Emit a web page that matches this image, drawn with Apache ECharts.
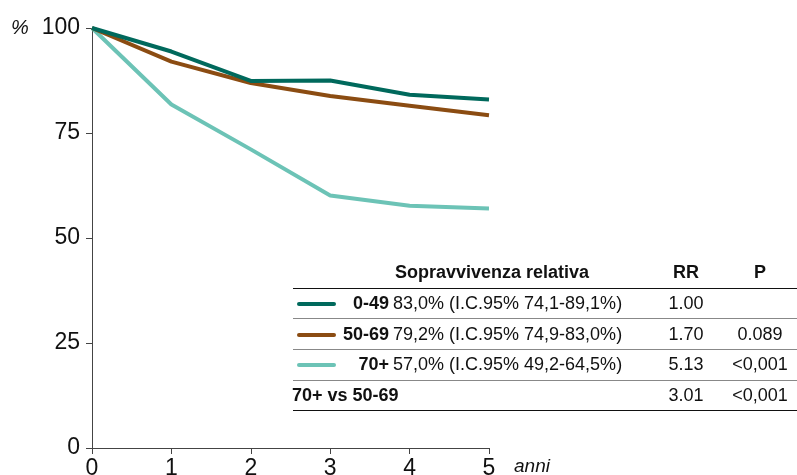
<!DOCTYPE html>
<html lang="it">
<head>
<meta charset="UTF-8">
<title>Sopravvivenza relativa</title>
<script src="https://cdn.jsdelivr.net/npm/echarts@6/dist/echarts.min.js"></script>
<style>html,body{margin:0;padding:0;background:#fff}</style>
</head>
<body>
<div id="main" style="width:797px;height:475px;"></div>
<script>
// dati
var anni = ['0', '1', '2', '3', '4', '5'];
var gruppi = ['0-49', '50-69', '70+'];
var colori = ['#00695c', '#8b4c12', '#6cc3b6'];
var s0_49 = [100, 94.4, 87.4, 87.5, 84.1, 83.0];
var s50_69 = [100, 92.0, 86.9, 83.8, 81.5, 79.2];
var s70 = [100, 81.8, 71.1, 60.1, 57.7, 57.0];
var sopravvivenza = ['83,0% (I.C.95% 74,1-89,1%)', '79,2% (I.C.95% 74,9-83,0%)', '57,0% (I.C.95% 49,2-64,5%)'];
var rr = ['1.00', '1.70', '5.13'];
var pval = ['', '0.089', '<0,001'];
var confrontoLabel = '70+ vs 50-69';
var confrontoRR = '3.01';
var confrontoP = '<0,001';

var sans = '"Liberation Sans", Arial, sans-serif';
var myChart = echarts.init(document.getElementById('main'));

function testo(t, x, y, align, bold) {
    return {
        type: 'text', silent: true,
        style: {
            text: t, x: x, y: y,
            textAlign: align, textVerticalAlign: 'middle',
            align: align, verticalAlign: 'middle',
            font: (bold ? 'bold ' : '') + '18px ' + sans,
            fill: '#111'
        }
    };
}
function riga(y, col) {
    return { type: 'line', silent: true, shape: {x1: 293, y1: y, x2: 797, y2: y}, style: {stroke: col, lineWidth: 1} };
}

var rowY = [304, 335, 365];
var lineeY = [288.5, 318.5, 349.5, 380.5, 410.5];
var grafica = [];
grafica.push(testo('Sopravvivenza relativa', 492, 273, 'center', true));
grafica.push(testo('RR', 686, 273, 'center', true));
grafica.push(testo('P', 760, 273, 'center', true));
lineeY.forEach(function (y, i) {
    grafica.push(riga(y, (i === 0 || i === 4) ? '#111' : '#888'));
});
gruppi.forEach(function (g, i) {
    grafica.push({ type: 'line', silent: true, shape: {x1: 299, y1: rowY[i], x2: 334, y2: rowY[i]},
        style: {stroke: colori[i], lineWidth: 4, lineCap: 'round'} });
    grafica.push(testo(g, 389, rowY[i], 'right', true));
    grafica.push(testo(sopravvivenza[i], 393, rowY[i], 'left', false));
    grafica.push(testo(rr[i], 686, rowY[i], 'center', false));
    grafica.push(testo(pval[i], 760, rowY[i], 'center', false));
});
grafica.push(testo(confrontoLabel, 292, 396, 'left', true));
grafica.push(testo(confrontoRR, 686, 396, 'center', false));
grafica.push(testo(confrontoP, 760, 396, 'center', false));
grafica.push({ type: 'text', silent: true, style: {text: '%', x: 11, y: 28, textVerticalAlign: 'middle', verticalAlign: 'middle',
    font: 'italic 20px ' + sans, fill: '#111'} });
grafica.push({ type: 'text', silent: true, style: {text: 'anni', x: 514, y: 467, textVerticalAlign: 'middle', verticalAlign: 'middle',
    font: 'italic 19px ' + sans, fill: '#111'} });

var option = {
    animation: false,
    grid: { left: 92, top: 28, width: 397, height: 420, outerBoundsMode: 'none', containLabel: false },
    xAxis: {
        type: 'category', data: anni, boundaryGap: false,
        axisLine: { lineStyle: { color: '#444', width: 1 } },
        axisTick: { length: 6, lineStyle: { color: '#444' } },
        axisLabel: { margin: 9, color: '#111', fontSize: 23, fontFamily: sans },
        splitLine: { show: false }
    },
    yAxis: {
        type: 'value', min: 0, max: 100, interval: 25,
        axisLine: { show: true, lineStyle: { color: '#444', width: 1 } },
        axisTick: { show: true, length: 6, lineStyle: { color: '#444' } },
        axisLabel: { margin: 12, color: '#111', fontSize: 23, fontFamily: sans },
        splitLine: { show: false }
    },
    series: [
        { name: '70+', type: 'line', data: s70, showSymbol: false, lineStyle: { color: colori[2], width: 4 } },
        { name: '50-69', type: 'line', data: s50_69, showSymbol: false, lineStyle: { color: colori[1], width: 4 } },
        { name: '0-49', type: 'line', data: s0_49, showSymbol: false, lineStyle: { color: colori[0], width: 4 } }
    ],
    graphic: grafica
};
myChart.setOption(option);
</script>
</body>
</html>
